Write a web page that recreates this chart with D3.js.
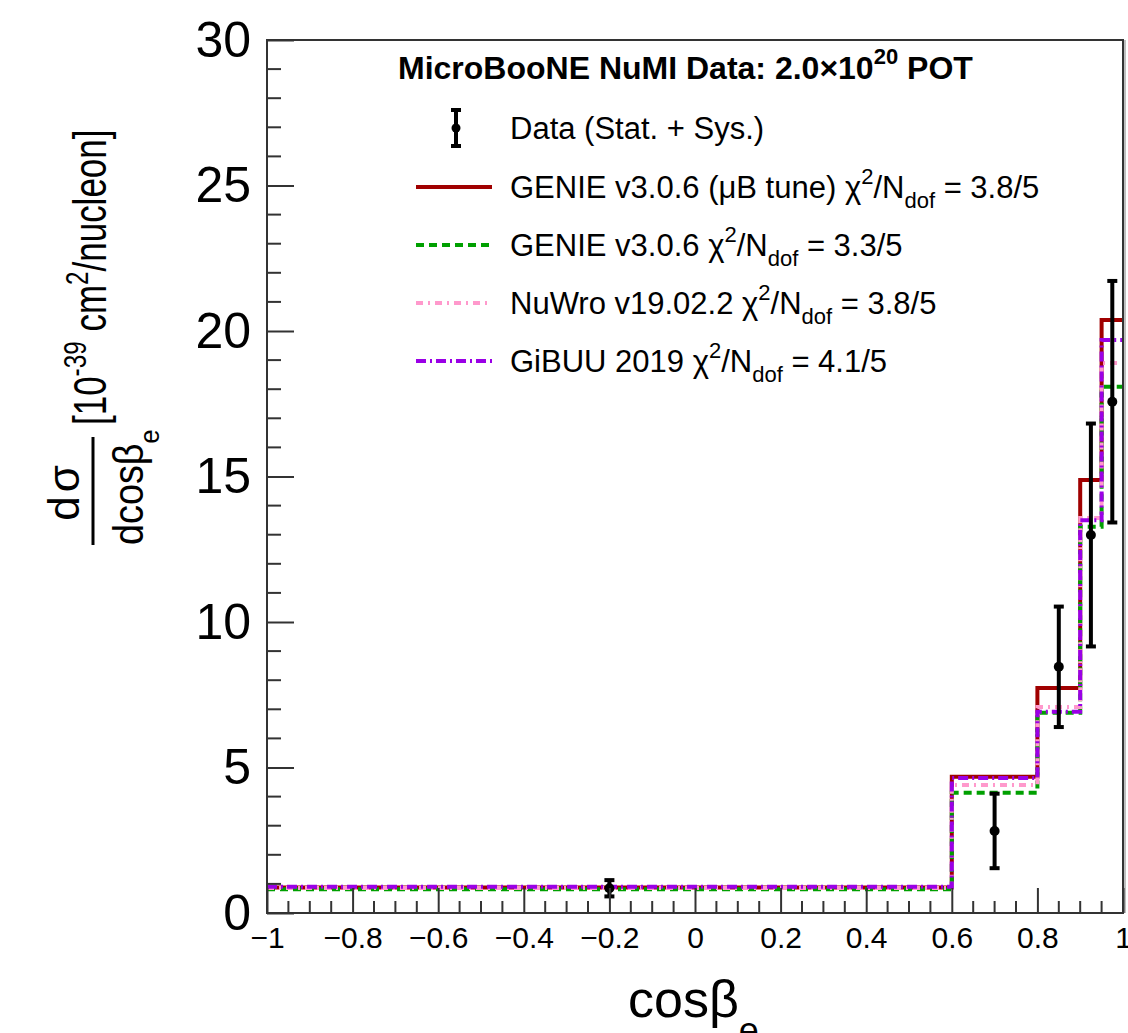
<!DOCTYPE html>
<html>
<head>
<meta charset="utf-8">
<script src="https://cdn.jsdelivr.net/npm/d3@7"></script>
<style>
  body { margin: 0; background: #fff; }
  svg { display: block; font-family: "Liberation Sans", Arial, Helvetica, sans-serif; }
</style>
</head>
<body>
<div id="chart"></div>
<script>
// bin edges in cos(beta_e)
var binEdges = [-1, 0.6, 0.8, 0.9, 0.95, 1.0];

// measured cross section and total (stat + sys) uncertainty
var dataVals = [0.85, 2.82, 8.46, 12.99, 17.57];
var dataErrs = [0.28, 1.28, 2.07, 3.83, 4.15];

// generator predictions
var genieTune = [0.88, 4.68, 7.73, 14.88, 20.38];
var genie = [0.82, 4.13, 6.88, 13.27, 18.08];
var nuwro = [0.86, 4.40, 7.08, 13.57, 18.90];
var gibuu = [0.90, 4.64, 6.92, 13.50, 19.69];

var xTicks = [-1, -0.8, -0.6, -0.4, -0.2, 0, 0.2, 0.4, 0.6, 0.8, 1];
var yTicks = [0, 5, 10, 15, 20, 25, 30];

var width = 1128, height = 1033;
var margin = { top: 40, right: 5, bottom: 120, left: 267 };
var x0 = margin.left, x1 = width - margin.right;
var y0 = height - margin.bottom, y1 = margin.top;

var xScale = d3.scaleLinear().domain([-1, 1]).range([x0, x1]);
var yScale = d3.scaleLinear().domain([0, 30]).range([y0, y1]);

var svg = d3.select('#chart').append('svg')
  .attr('width', width)
  .attr('height', height);

svg.append('defs').append('clipPath').attr('id', 'frame')
  .append('rect')
  .attr('x', x0).attr('y', y1)
  .attr('width', x1 - x0).attr('height', y0 - y1);

// SERIES STYLE
var series = [
  { vals: genieTune, color: '#a00000', dash: null, w: 4 },
  { vals: genie, color: '#00a000', dash: '8,5', w: 4 },
  { vals: nuwro, color: '#ff99cc', dash: '7,5,2,5', w: 4 },
  { vals: gibuu, color: '#9a00e6', dash: '10,4,2,4', w: 4 }
];

function stepPath(vals) {
  var p = d3.path();
  vals.forEach(function (v, i) {
    var xa = xScale(binEdges[i]), xb = xScale(binEdges[i + 1]);
    if (i === 0) p.moveTo(xa, yScale(v));
    else p.lineTo(xa, yScale(v));
    p.lineTo(xb, yScale(v));
  });
  return p.toString();
}

var plot = svg.append('g').attr('clip-path', 'url(#frame)');

plot.selectAll('.hist')
  .data(series)
  .enter().append('path')
  .attr('class', 'hist')
  .attr('d', function (d) { return stepPath(d.vals); })
  .attr('fill', 'none')
  .attr('stroke', function (d) { return d.color; })
  .attr('stroke-width', function (d) { return d.w; })
  .attr('stroke-dasharray', function (d) { return d.dash; });

// DATA POINTS
var points = dataVals.map(function (v, i) {
  return { x: (binEdges[i] + binEdges[i + 1]) / 2, y: v, e: dataErrs[i] };
});

var pts = plot.selectAll('.pt')
  .data(points)
  .enter().append('g')
  .attr('class', 'pt');

pts.append('line')
  .attr('x1', function (d) { return xScale(d.x); })
  .attr('x2', function (d) { return xScale(d.x); })
  .attr('y1', function (d) { return yScale(d.y - d.e); })
  .attr('y2', function (d) { return yScale(d.y + d.e); })
  .attr('stroke', '#000').attr('stroke-width', 4);

[-1, 1].forEach(function (s) {
  pts.append('line')
    .attr('x1', function (d) { return xScale(d.x) - 5; })
    .attr('x2', function (d) { return xScale(d.x) + 5; })
    .attr('y1', function (d) { return yScale(d.y + s * d.e); })
    .attr('y2', function (d) { return yScale(d.y + s * d.e); })
    .attr('stroke', '#000').attr('stroke-width', 4);
});

pts.append('circle')
  .attr('cx', function (d) { return xScale(d.x); })
  .attr('cy', function (d) { return yScale(d.y); })
  .attr('r', 5)
  .attr('fill', '#000');

// FRAME
svg.append('rect')
  .attr('x', x0).attr('y', y1)
  .attr('width', x1 - x0).attr('height', y0 - y1)
  .attr('fill', 'none')
  .attr('stroke', '#333').attr('stroke-width', 2);
svg.append('line')
  .attr('x1', x1 + 2).attr('x2', x1 + 2).attr('y1', y1).attr('y2', y0)
  .attr('stroke', '#aaa').attr('stroke-width', 1.5);

// AXES
var xAxis = d3.axisBottom(xScale)
  .tickValues(xTicks)
  .tickSize(-25)
  .tickPadding(14)
  .tickFormat(function (d) { return d3.format('')(d); });

var gx = svg.append('g')
  .attr('transform', 'translate(0,' + y0 + ')')
  .call(xAxis);
gx.select('.domain').remove();
gx.selectAll('.tick line').attr('stroke', '#333').attr('stroke-width', 2);
gx.selectAll('.tick text')
  .attr('font-size', 30).attr('fill', '#000')
  .attr('font-family', '"Liberation Sans", Arial, sans-serif');

var xMinor = d3.range(-1, 1.0001, 0.05).filter(function (v) {
  return Math.abs(Math.round(v * 5) - v * 5) > 1e-6;
});
svg.append('g').selectAll('line')
  .data(xMinor)
  .enter().append('line')
  .attr('x1', function (d) { return xScale(d); })
  .attr('x2', function (d) { return xScale(d); })
  .attr('y1', y0).attr('y2', y0 - 12)
  .attr('stroke', '#333').attr('stroke-width', 2);

var yAxis = d3.axisLeft(yScale)
  .tickValues(yTicks)
  .tickSize(-27)
  .tickPadding(16);

var gy = svg.append('g')
  .attr('transform', 'translate(' + x0 + ',0)')
  .call(yAxis);
gy.select('.domain').remove();
gy.selectAll('.tick line').attr('stroke', '#333').attr('stroke-width', 2);
gy.selectAll('.tick text')
  .attr('font-size', 50).attr('fill', '#000')
  .attr('font-family', '"Liberation Sans", Arial, sans-serif');

var yMinor = d3.range(0, 30, 1).filter(function (v) { return v % 5 !== 0; });
svg.append('g').selectAll('line')
  .data(yMinor)
  .enter().append('line')
  .attr('x1', x0).attr('x2', x0 + 14)
  .attr('y1', function (d) { return yScale(d); })
  .attr('y2', function (d) { return yScale(d); })
  .attr('stroke', '#333').attr('stroke-width', 2);

// X TITLE
var xt = svg.append('text')
  .attr('x', 628).attr('y', 1017)
  .attr('font-size', 52);
xt.append('tspan').text('cosβ');
xt.append('tspan').attr('font-size', 36).attr('dy', 26).text('e');

// Y TITLE (rotated)
var yt = svg.append('g').attr('transform', 'translate(0,545) rotate(-90)');
var den = yt.append('text').attr('x', 0).attr('y', 143).attr('font-size', 42)
  .attr('transform', 'scale(0.9,1)');
den.append('tspan').text('dcosβ');
den.append('tspan').attr('font-size', 28).attr('dy', 16).text('e');
yt.append('text')
  .attr('x', 54).attr('y', 79)
  .attr('text-anchor', 'middle')
  .attr('font-size', 44)
  .attr('letter-spacing', 4)
  .text('dσ');
yt.append('line')
  .attr('x1', 0).attr('x2', 108)
  .attr('y1', 93).attr('y2', 93)
  .attr('stroke', '#000').attr('stroke-width', 3);
var unit = yt.append('g').attr('transform', 'translate(120,0) scale(0.76,1)')
  .append('text').attr('x', 0).attr('y', 106).attr('font-size', 46);
unit.append('tspan').text('[10');
unit.append('tspan').attr('font-size', 32).attr('dy', -20).text('-39');
unit.append('tspan').attr('dy', 20).text(' cm');
unit.append('tspan').attr('font-size', 32).attr('dy', -18).text('2');
unit.append('tspan').attr('dy', 18).text('/nucleon]');

// LEGEND
var title = svg.append('text')
  .attr('x', 398).attr('y', 79)
  .attr('font-size', 32).attr('font-weight', 'bold');
title.append('tspan').text('MicroBooNE NuMI Data: 2.0×10');
title.append('tspan').attr('font-size', 22).attr('dy', -15).text('20');
title.append('tspan').attr('dy', 15).text(' POT');

var legendRows = [
  { label: 'GENIE v3.0.6 (μB tune)', chi: '3.8/5', y: 187 },
  { label: 'GENIE v3.0.6', chi: '3.3/5', y: 245 },
  { label: 'NuWro v19.02.2', chi: '3.8/5', y: 303 },
  { label: 'GiBUU 2019', chi: '4.1/5', y: 361 }
];

// data entry
var lg = svg.append('g');
lg.append('line').attr('x1', 456).attr('x2', 456).attr('y1', 110).attr('y2', 146)
  .attr('stroke', '#000').attr('stroke-width', 4);
[110, 146].forEach(function (yy) {
  lg.append('line').attr('x1', 451).attr('x2', 461).attr('y1', yy).attr('y2', yy)
    .attr('stroke', '#000').attr('stroke-width', 4);
});
lg.append('circle').attr('cx', 456).attr('cy', 128).attr('r', 4.5).attr('fill', '#000');
lg.append('text').attr('x', 510).attr('y', 139).attr('font-size', 31)
  .text('Data (Stat. + Sys.)');

legendRows.forEach(function (r, i) {
  var s = series[i];
  lg.append('line')
    .attr('x1', 416).attr('x2', 492)
    .attr('y1', r.y).attr('y2', r.y)
    .attr('stroke', s.color).attr('stroke-width', s.w)
    .attr('stroke-dasharray', s.dash);
  var t = lg.append('text').attr('x', 510).attr('y', r.y + 11).attr('font-size', 31);
  t.append('tspan').text(r.label + ' χ');
  t.append('tspan').attr('font-size', 22).attr('dy', -14).text('2');
  t.append('tspan').attr('dy', 14).text('/N');
  t.append('tspan').attr('font-size', 22).attr('dy', 10).text('dof');
  t.append('tspan').attr('dy', -10).text(' = ' + r.chi);
});
</script>
</body>
</html>
